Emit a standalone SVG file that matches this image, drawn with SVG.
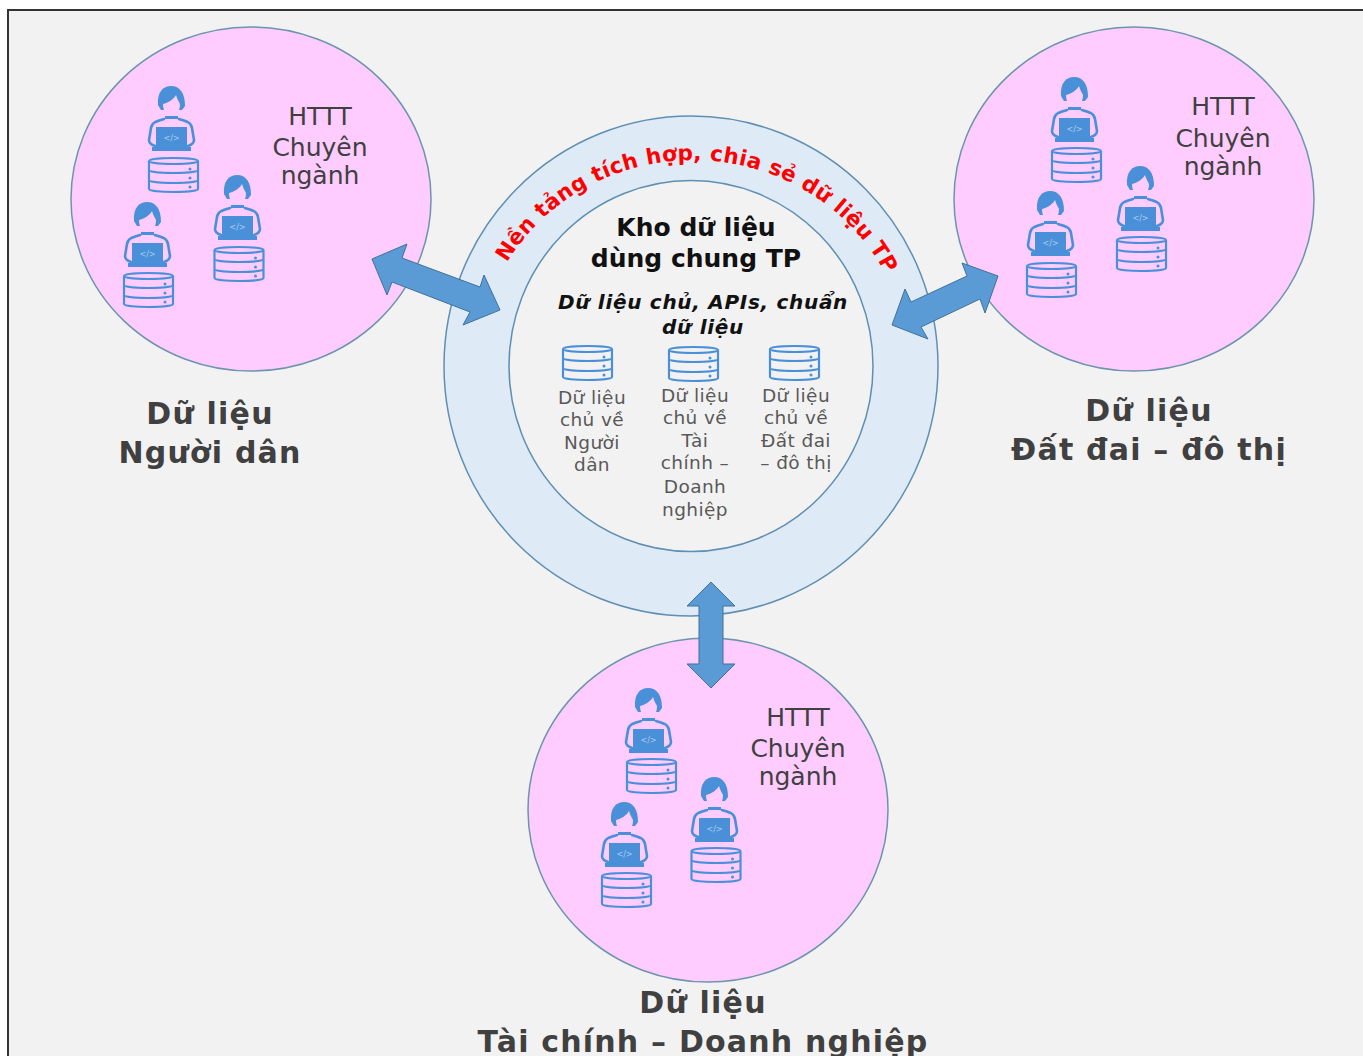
<svg xmlns="http://www.w3.org/2000/svg" xmlns:xlink="http://www.w3.org/1999/xlink" width="1363" height="1056" viewBox="0 0 1363 1056">
<style>
text{font-family:"DejaVu Sans","Verdana",sans-serif;text-anchor:middle}
.pink{fill:#ffccff;stroke:#6d94ad;stroke-width:1.5}
.arrow{fill:#5b9bd5;stroke:#41719c;stroke-width:1}
.ic{fill:none;stroke:#4a90d9;stroke-width:2.600;stroke-linecap:round}
.icf{fill:#4a90d9}
.h{font-size:25px;fill:#404040}
.t{font-weight:bold;font-size:30px;fill:#404040;letter-spacing:1.200px}
.s{font-size:18.500px;fill:#595959;letter-spacing:.4px}
.k{font-size:25px;font-weight:bold;fill:#111}
.i{font-size:20px;font-weight:bold;font-style:italic;fill:#111;letter-spacing:.7px}
</style>
<defs>
<g id="person">
<path class="icf" d="M-13,19C-14,6-8,0 0,0C9,0 14,7 14,20L11,24L-10,24Z"/>
<path fill="#ffccff" d="M-8,18C-3,17 3,13 5,9C6,13 8,16 9,18C9,25 6,29 1,29C-5,29-8,25-8,18Z"/>
<rect class="icf" x="-6" y="30" width="13" height="3"/>
<path class="ic" d="M-7,33C-14,35-19,36-20,42L-22,54Q-22,58-16,60M8,33C15,35 20,36 21,42L23,54Q23,58 17,60"/>
<rect class="icf" x="-15" y="41" width="31" height="21"/>
<rect class="icf" x="-19" y="61" width="39" height="4"/>
<text x="0.500" y="54.500" style="font-size:8px;fill:#a9cdf0">&lt;/&gt;</text>
</g>
<g id="db">
<path fill="none" stroke="#4a90d9" stroke-width="2.200" d="M1,4C1,0 50,0 50,4V32C50,36 1,36 1,32ZM1,4C1,8 50,8 50,4M1,13C1,17 50,17 50,13M1,23C1,27 50,27 50,23"/>
<circle class="icf" cx="42" cy="12" r="1.500"/><circle class="icf" cx="42" cy="21" r="1.500"/><circle class="icf" cx="42" cy="30" r="1.500"/>
</g>
<path id="arc" d="M478,366A215,206 0 0 1 908,366"/>
</defs>
<rect width="1363" height="1056" fill="#fff"/>
<rect x="8" y="10" width="1365" height="1056" fill="#f2f2f2" stroke="#333" stroke-width="2"/>

<g id="node-center">
<ellipse cx="691" cy="366" rx="247" ry="250" fill="#deeaf6" stroke="#5f8fb3" stroke-width="1.500"/>
<ellipse cx="691" cy="366" rx="182" ry="185.500" fill="#f2f2f2" stroke="#5f8fb3" stroke-width="1.500"/>
<text style="font-size:21.500px;font-weight:bold;fill:#f00;letter-spacing:.3px"><textPath xlink:href="#arc" href="#arc" startOffset="51%">Nền tảng tích hợp, chia sẻ dữ liệu TP</textPath></text>
<text class="k" x="696" y="236">Kho dữ liệu</text>
<text class="k" x="696" y="267">dùng chung TP</text>
<text class="i" x="703" y="309">Dữ liệu chủ, APIs, chuẩn</text>
<text class="i" x="703" y="334">dữ liệu</text>
<use href="#db" x="562" y="345"/><use href="#db" x="668" y="346"/><use href="#db" x="769" y="345"/>
<text class="s" x="592" y="404">Dữ liệu</text><text class="s" x="592" y="426">chủ về</text><text class="s" x="592" y="449">Người</text><text class="s" x="592" y="471">dân</text>
<text class="s" x="695" y="402">Dữ liệu</text><text class="s" x="695" y="424">chủ về</text><text class="s" x="695" y="447">Tài</text><text class="s" x="695" y="469">chính –</text><text class="s" x="695" y="493">Doanh</text><text class="s" x="695" y="516">nghiệp</text>
<text class="s" x="796" y="402">Dữ liệu</text><text class="s" x="796" y="424">chủ về</text><text class="s" x="796" y="447">Đất đai</text><text class="s" x="796" y="469">– đô thị</text>
</g>

<g id="node-nguoi-dan">
<ellipse class="pink" cx="251" cy="199" rx="180" ry="172"/>
<use href="#person" x="171" y="86"/><use href="#person" x="237" y="175"/><use href="#person" x="147" y="202"/>
<use href="#db" x="148" y="157"/><use href="#db" x="213.500" y="246"/><use href="#db" x="123" y="272"/>
<text class="h" x="320" y="125">HTTT</text><text class="h" x="320" y="156">Chuyên</text><text class="h" x="320" y="184">ngành</text>
<text class="t" x="210" y="424">Dữ liệu</text><text class="t" x="210" y="463">Người dân</text>
</g>

<g id="node-dat-dai">
<ellipse class="pink" cx="1134" cy="199" rx="180" ry="172"/>
<use href="#person" x="1074" y="77"/><use href="#person" x="1140" y="166"/><use href="#person" x="1050" y="191"/>
<use href="#db" x="1051" y="147"/><use href="#db" x="1116" y="236"/><use href="#db" x="1026" y="262"/>
<text class="h" x="1223" y="115">HTTT</text><text class="h" x="1223" y="147">Chuyên</text><text class="h" x="1223" y="175">ngành</text>
<text class="t" x="1149" y="421">Dữ liệu</text><text class="t" x="1149" y="460">Đất đai – đô thị</text>
</g>

<g id="node-tai-chinh">
<ellipse class="pink" cx="708" cy="810" rx="180" ry="172"/>
<use href="#person" x="648" y="688"/><use href="#person" x="714" y="777"/><use href="#person" x="624" y="802"/>
<use href="#db" x="626" y="758"/><use href="#db" x="690.500" y="847"/><use href="#db" x="601" y="872"/>
<text class="h" x="798" y="726">HTTT</text><text class="h" x="798" y="757">Chuyên</text><text class="h" x="798" y="785">ngành</text>
<text class="t" x="703" y="1013">Dữ liệu</text><text class="t" x="703" y="1052">Tài chính – Doanh nghiệp</text>
</g>

<g id="connectors">
<polygon class="arrow" points="372,259 407,244 402,258 480,287 484,275 500,310 463,325 470,312 392,282 387,295"/>
<polygon class="arrow" points="998,276 985,313 980,299 921,327 928,339 892,325 905,289 911,302 967,276 962,263"/>
<polygon class="arrow" points="711,582 735,606 723,606 723,664 735,664 711,688 687,664 699,664 699,606 687,606"/>
</g>
</svg>
